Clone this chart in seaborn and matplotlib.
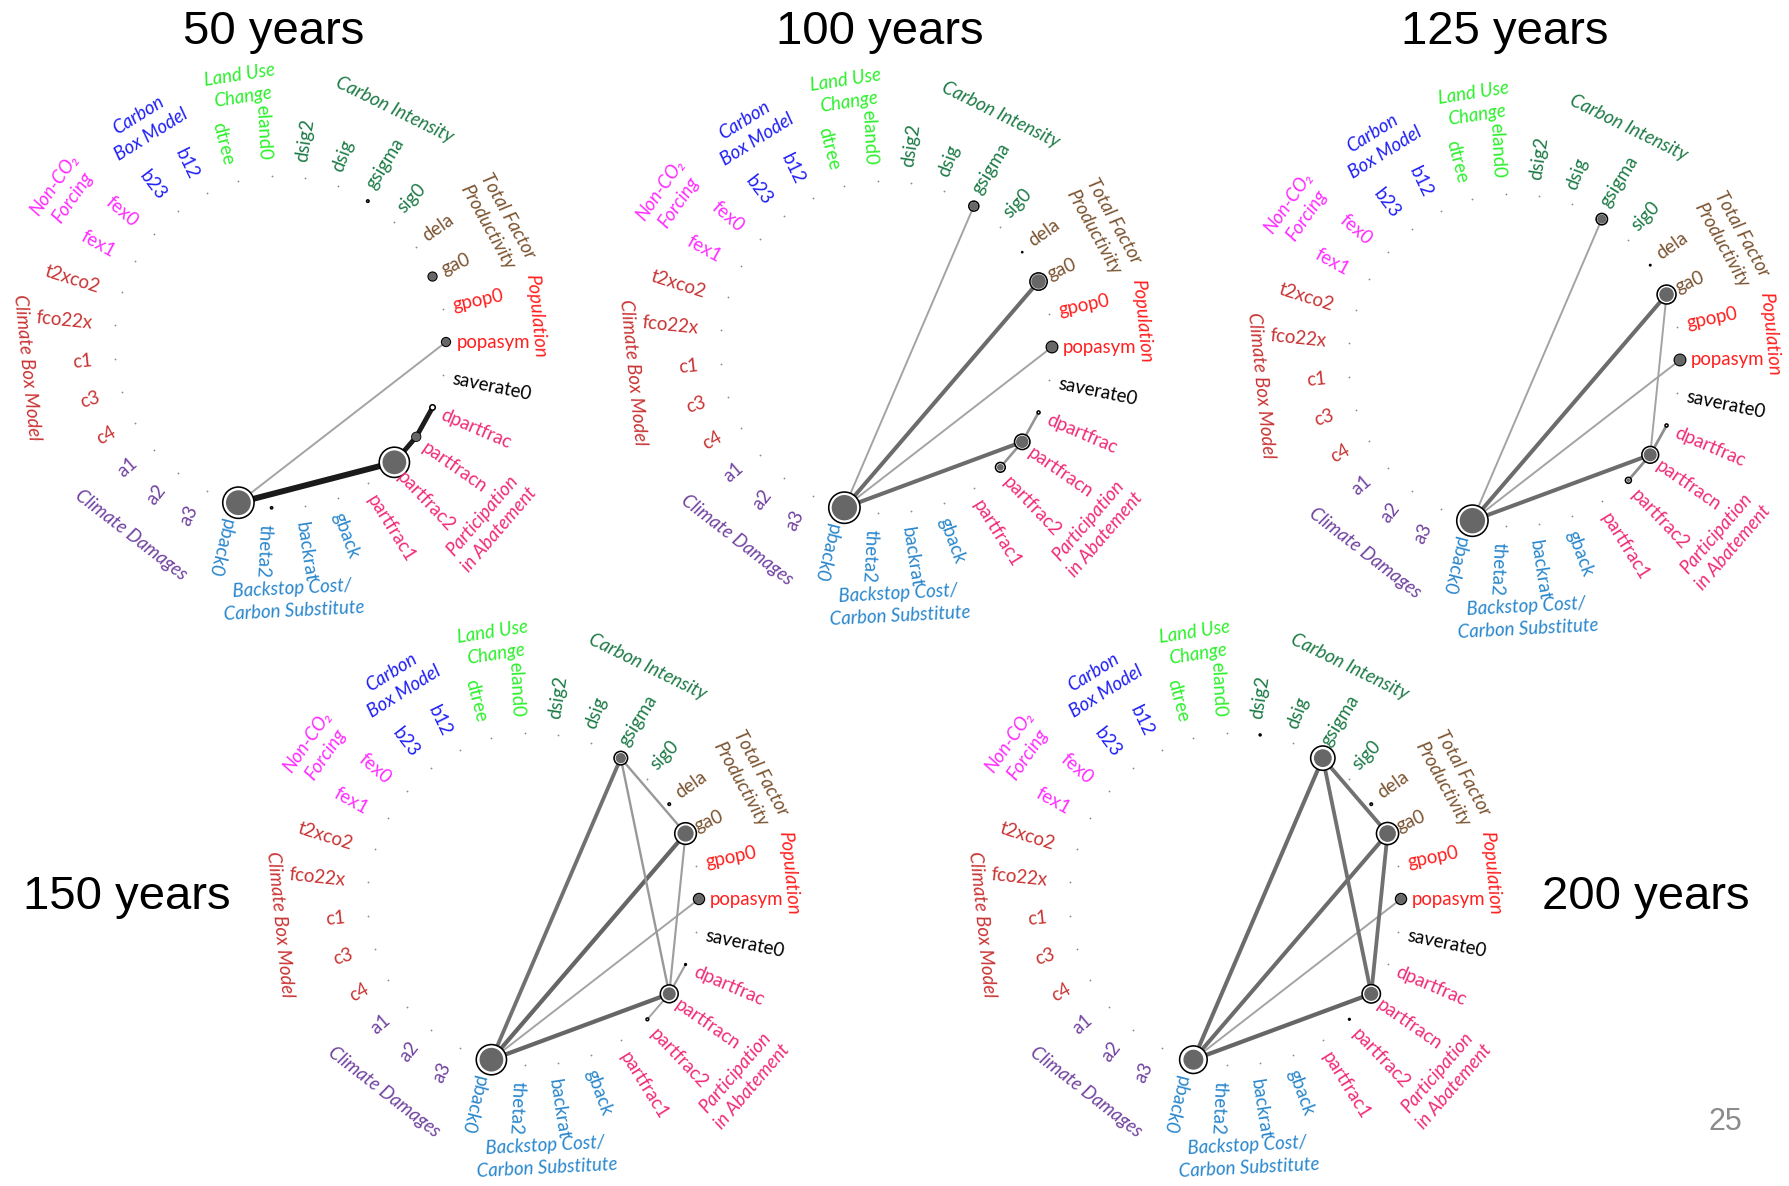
import numpy as np
import matplotlib
matplotlib.use('Agg')
import matplotlib.pyplot as plt
import seaborn as sns

# parameters around the circle, counter-clockwise starting at 3 o'clock
params = ['popasym', 'gpop0', 'ga0', 'dela', 'sig0', 'gsigma', 'dsig', 'dsig2',
          'eland0', 'dtree', 'b12', 'b23', 'fex0', 'fex1', 't2xco2', 'fco22x',
          'c1', 'c3', 'c4', 'a1', 'a2', 'a3', 'pback0', 'theta2', 'backrat',
          'gback', 'partfrac1', 'partfrac2', 'partfracn', 'dpartfrac', 'saverate0']
param_group = [0, 0, 1, 1, 2, 2, 2, 2, 3, 3, 4, 4, 5, 5, 6, 6, 6, 6, 6, 7, 7, 7,
               8, 8, 8, 8, 9, 9, 9, 9, -1]
group_names = ['Population', 'Total Factor\nProductivity', 'Carbon Intensity',
               'Land Use\nChange', 'Carbon\nBox Model', 'Non-CO\u2082\nForcing',
               'Climate Box Model', 'Climate Damages',
               'Backstop Cost/\nCarbon Substitute', 'Participation\nin Abatement']
group_colors = ['#ff1f1f', '#7b5431', '#1e7b47', '#2ef02e', '#2121f5', '#ff2cff',
                '#c93434', '#7143a0', '#2a87cc', '#f02c78']

titles = ['50 years', '100 years', '125 years', '150 years', '200 years']

# total order (ST), first order (S1) and second order (S2) indices
st_50 = {'pback0': 0.61, 'partfrac2': 0.59, 'partfracn': 0.19, 'dpartfrac': 0.13,
         'popasym': 0.19, 'ga0': 0.19, 'gsigma': 0.075, 'theta2': 0.07}
s1_50 = {'pback0': 0.46, 'partfrac2': 0.44, 'partfracn': 0.16, 'popasym': 0.15, 'ga0': 0.15}
s2_50 = [('pback0', 'partfrac2', 0.22), ('partfrac2', 'partfracn', 0.17),
         ('partfracn', 'dpartfrac', 0.17), ('pback0', 'popasym', 0.03)]

st_100 = {'pback0': 0.61, 'gsigma': 0.215, 'ga0': 0.35, 'popasym': 0.24, 'partfracn': 0.315,
          'partfrac2': 0.21, 'dpartfrac': 0.085, 'dela': 0.05}
s1_100 = {'pback0': 0.47, 'gsigma': 0.155, 'ga0': 0.27, 'popasym': 0.195, 'partfracn': 0.23,
          'partfrac2': 0.125}
s2_100 = [('pback0', 'gsigma', 0.03), ('pback0', 'ga0', 0.13), ('pback0', 'popasym', 0.03),
          ('pback0', 'partfracn', 0.13), ('partfracn', 'dpartfrac', 0.06),
          ('partfracn', 'partfrac2', 0.06)]

st_125 = {'pback0': 0.61, 'gsigma': 0.24, 'ga0': 0.38, 'popasym': 0.24, 'partfracn': 0.34,
          'partfrac2': 0.14, 'dpartfrac': 0.085, 'dela': 0.055}
s1_125 = {'pback0': 0.47, 'gsigma': 0.17, 'ga0': 0.27, 'popasym': 0.2, 'partfracn': 0.24,
          'partfrac2': 0.06}
s2_125 = [('pback0', 'gsigma', 0.03), ('pback0', 'ga0', 0.13), ('pback0', 'popasym', 0.03),
          ('pback0', 'partfracn', 0.13), ('ga0', 'partfracn', 0.03),
          ('partfracn', 'dpartfrac', 0.07), ('partfracn', 'partfrac2', 0.07)]

st_150 = {'pback0': 0.59, 'gsigma': 0.28, 'ga0': 0.43, 'popasym': 0.23, 'partfracn': 0.36,
          'partfrac2': 0.08, 'dpartfrac': 0.06, 'dela': 0.075}
s1_150 = {'pback0': 0.44, 'gsigma': 0.19, 'ga0': 0.3, 'popasym': 0.18, 'partfracn': 0.24}
s2_150 = [('pback0', 'gsigma', 0.12), ('pback0', 'ga0', 0.14), ('pback0', 'popasym', 0.03),
          ('pback0', 'partfracn', 0.14), ('gsigma', 'ga0', 0.05), ('gsigma', 'partfracn', 0.05),
          ('ga0', 'partfracn', 0.04), ('partfracn', 'dpartfrac', 0.04),
          ('partfracn', 'partfrac2', 0.03)]

st_200 = {'pback0': 0.54, 'gsigma': 0.48, 'ga0': 0.44, 'popasym': 0.23, 'partfracn': 0.37,
          'partfrac2': 0.06, 'dela': 0.075, 'dsig2': 0.065}
s1_200 = {'pback0': 0.37, 'gsigma': 0.33, 'ga0': 0.31, 'popasym': 0.175, 'partfracn': 0.26}
s2_200 = [('pback0', 'gsigma', 0.13), ('pback0', 'ga0', 0.13), ('pback0', 'popasym', 0.03),
          ('pback0', 'partfracn', 0.14), ('gsigma', 'ga0', 0.12), ('gsigma', 'partfracn', 0.12),
          ('ga0', 'partfracn', 0.12)]

panels = [(st_50, s1_50, s2_50), (st_100, s1_100, s2_100), (st_125, s1_125, s2_125),
          (st_150, s1_150, s2_150), (st_200, s1_200, s2_200)]

sns.set_theme(style='white')
plt.rcParams['font.family'] = ['Lato', 'DejaVu Sans']

W, H = 1789, 1186
R = 166  # circle radius in px
centers = [(280, 342), (886, 347), (1514, 360), (533, 899), (1235, 899)]
title_pos = [(274, 44), (880, 44), (1505, 44), (127, 909), (1646, 909)]
group_r = [1.55, 1.50, 1.56, 1.56, 1.54, 1.59, 1.53, 1.47, 1.555, 1.67]
L = 1.95
SCALE = 27  # px of radius per unit index
FS = 13.4

n = len(params)
theta = np.arange(n) * 2 * np.pi / n
deg = np.degrees(theta)
px, py = np.cos(theta), np.sin(theta)
idx = {p: i for i, p in enumerate(params)}


def area(r_px):
    return (2 * r_px * 0.72) ** 2


def line_width(v):
    return (1.3 + 21 * v) * 0.72


def line_grey(v):
    g = np.interp(v, [0.03, 0.14, 0.16, 0.2], [0.64, 0.4, 0.12, 0.1])
    return (g, g, g)


fig = plt.figure(figsize=(W / 100, H / 100), dpi=100)

for k, (st, s1, s2) in enumerate(panels):
    cx, cy = centers[k]
    half = L * R
    ax = fig.add_axes([(cx - half) / W, (H - cy - half) / H, 2 * half / W, 2 * half / H])
    ax.set_xlim(-L, L)
    ax.set_ylim(-L, L)
    ax.axis('off')

    for a, b, v in s2:
        i, j = idx[a], idx[b]
        ax.plot([px[i], px[j]], [py[i], py[j]], color=line_grey(v), lw=line_width(v),
                solid_capstyle='butt', zorder=1)

    zero = [idx[p] for p in params if p not in st]
    sns.scatterplot(x=px[zero], y=py[zero], s=area(0.9), color='#8a8a8a', linewidth=0,
                    ax=ax, legend=False, zorder=2)

    ids = [idx[p] for p in st]
    r_st = np.array([SCALE * st[p] for p in st])
    sns.scatterplot(x=px[ids], y=py[ids], s=area(r_st), color='black', linewidth=0,
                    ax=ax, legend=False, zorder=3)
    sns.scatterplot(x=px[ids], y=py[ids], s=area(np.clip(r_st - 1.6, 0, None)), color='white',
                    linewidth=0, ax=ax, legend=False, zorder=4)
    ids1 = [idx[p] for p in s1]
    r_s1 = np.array([SCALE * s1[p] for p in s1])
    sns.scatterplot(x=px[ids1], y=py[ids1], s=area(r_s1), color='#676767', linewidth=0,
                    ax=ax, legend=False, zorder=5)

    # parameter labels
    for i, p in enumerate(params):
        d = deg[i]
        if 90 < d < 250:
            rot, ha = d - 180, 'right'
        else:
            rot, ha = (d if d <= 180 else d - 360), 'left'
        col = group_colors[param_group[i]] if param_group[i] >= 0 else 'black'
        ax.text(-0.036 + 1.10 * px[i], 1.10 * py[i], p, rotation=rot, rotation_mode='anchor',
                ha=ha, va='center', fontsize=FS, color=col)

    # group labels
    for g, name in enumerate(group_names):
        members = [i for i in range(n) if param_group[i] == g]
        ang = deg[members].mean()
        rot = ang - 90 if ang < 180 else ang + 90 - 360
        a = np.radians(ang)
        ax.text(group_r[g] * np.cos(a), group_r[g] * np.sin(a), name, rotation=rot,
                rotation_mode='anchor', ha='center', va='center', multialignment='center',
                fontsize=FS, style='italic', color=group_colors[g], linespacing=1.4)

for t, (x, y) in zip(titles, title_pos):
    fig.text(x / W, 1 - y / H, t, ha='center', va='baseline', fontsize=34,
             family=['Liberation Sans', 'DejaVu Sans'], color='black')

fig.text(1725 / W, 1 - 1122 / H, '25', ha='center', va='center', fontsize=22,
         color='#8c8c8c', family=['Liberation Sans', 'DejaVu Sans'])

fig.savefig('out.png', dpi=100)
